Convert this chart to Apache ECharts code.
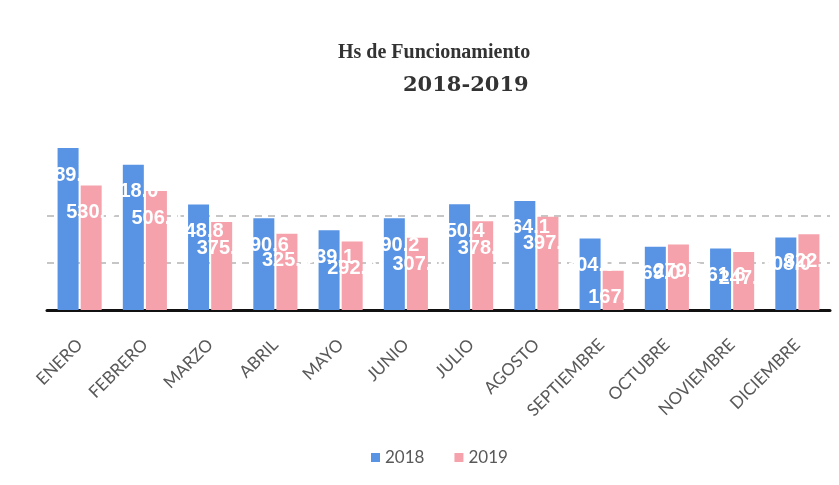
<!DOCTYPE html>
<html>
<head>
<meta charset="utf-8">
<script src="https://cdn.jsdelivr.net/npm/echarts@6/dist/echarts.min.js"></script>
<style>
html,body{margin:0;padding:0;background:#fff;}
#chart{width:839px;height:485px;}
</style>
</head>
<body>
<div id="chart"></div>
<script>
const categories = ['ENERO','FEBRERO','MARZO','ABRIL','MAYO','JUNIO','JULIO','AGOSTO','SEPTIEMBRE','OCTUBRE','NOVIEMBRE','DICIEMBRE'];
const hs2018 = [689.0, 618.0, 448.8, 390.6, 339.1, 390.2, 450.4, 464.1, 304.0, 269.0, 261.6, 308.0];
const hs2019 = [530, 506, 375, 325, 292, 307, 378, 397, 167, 279, 247, 322];
const seriesNames = ['2018', '2019'];
const titleLine1 = 'Hs de Funcionamiento';
const titleLine2 = '2018-2019';

const chart = echarts.init(document.getElementById('chart'), null, {renderer: 'canvas'});
const labelStyle = {
  show: true,
  position: 'insideTop',
  distance: 17,
  color: '#ffffff',
  fontFamily: 'Liberation Sans',
  fontWeight: 'bold',
  fontSize: 20,
  formatter: p => Number(p.value).toFixed(1)
};
chart.setOption({
  animation: false,
  backgroundColor: '#ffffff',
  title: [
    {text: titleLine1, left: 333, top: 38,
     textStyle: {fontFamily: 'Liberation Serif', fontWeight: 'bold', fontSize: 20, color: '#333333'}},
    {text: titleLine2, left: 398, top: 70,
     textStyle: {fontFamily: 'DejaVu Serif', fontWeight: 'bold', fontSize: 21, color: '#333333'}}
  ],
  legend: {
    top: 444, left: 366,
    itemWidth: 9, itemHeight: 9, itemGap: 30,
    icon: 'rect',
    textStyle: {fontFamily: 'Lato', fontSize: 17, color: '#595959'},
    data: seriesNames
  },
  grid: {left: 47, right: 9, top: 122, bottom: 175},
  xAxis: {
    type: 'category',
    data: categories,
    axisLine: {lineStyle: {color: '#111111', width: 3}},
    axisTick: {show: false},
    axisLabel: {rotate: 45, margin: 32, interval: 0, fontFamily: 'Lato', fontSize: 17, color: '#595959'}
  },
  yAxis: {
    type: 'value', min: 0, max: 800, interval: 200,
    axisLabel: {show: false}, axisLine: {show: false}, axisTick: {show: false},
    splitLine: {show: true, lineStyle: {type: [7, 6], width: 1.5,
      color: ['rgba(0,0,0,0)', '#b4b4b4', '#b4b4b4', 'rgba(0,0,0,0)', 'rgba(0,0,0,0)']}}
  },
  series: [
    {name: seriesNames[0], type: 'bar', data: hs2018, barWidth: 21, barGap: '10%',
     itemStyle: {color: '#5893e4'}, label: labelStyle},
    {name: seriesNames[1], type: 'bar', data: hs2019, barWidth: 21,
     itemStyle: {color: '#f6a2ac'}, label: labelStyle}
  ]
});
</script>
</body>
</html>
